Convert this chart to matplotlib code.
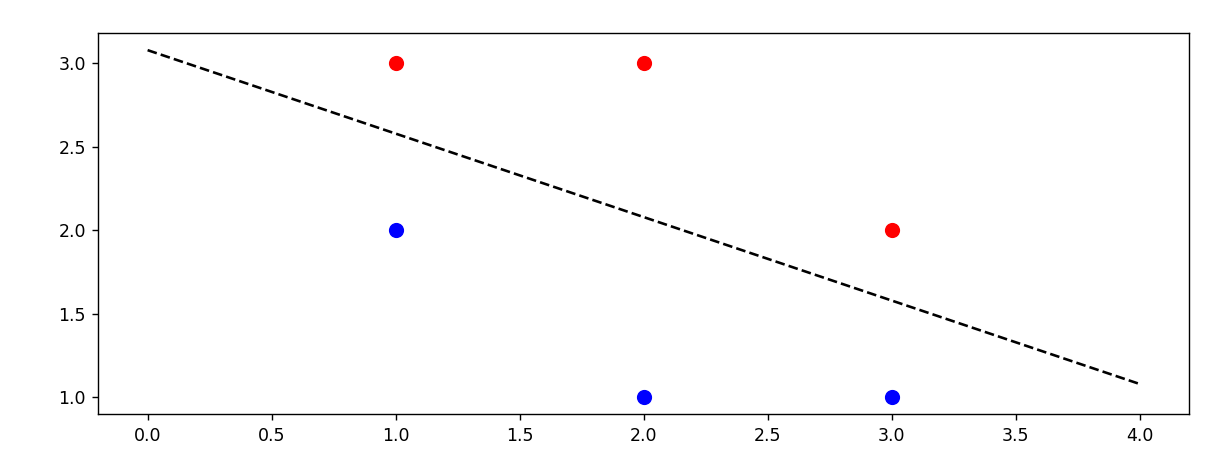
import matplotlib
matplotlib.use("Agg")
import matplotlib.pyplot as plt
import numpy as np

red_x = [1, 2, 3]
red_y = [3, 3, 2]
blue_x = [1, 2, 3]
blue_y = [2, 1, 1]
line_x = [0, 4]
line_y = [3.078, 1.078]

fig = plt.figure(figsize=(9.8, 3.696), dpi=125)
ax = fig.add_axes([0.080, 0.103, 0.891, 0.826])
ax.scatter(red_x, red_y, color="red", s=60)
ax.scatter(blue_x, blue_y, color="blue", s=60)
ax.plot(line_x, line_y, "k--")
fig.savefig("out.png", dpi=125)
